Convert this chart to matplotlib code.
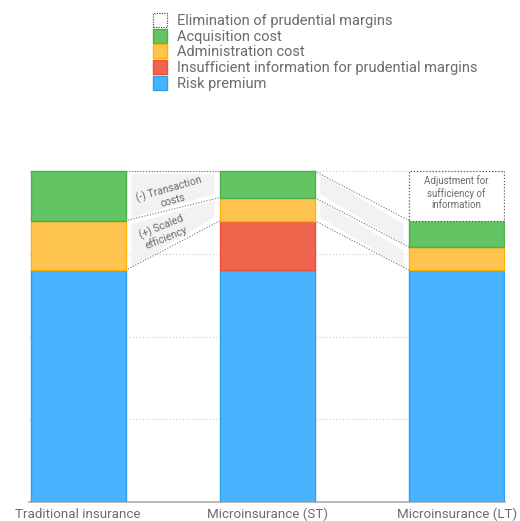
#!/usr/bin/env python3
"""Stacked premium breakdown: traditional vs micro insurance."""

import matplotlib

matplotlib.use("Agg")

import matplotlib.pyplot as plt
from matplotlib.patches import Patch, Polygon

plt.rcParams["font.family"] = ["Roboto", "DejaVu Sans"]

CATEGORIES = ["Traditional insurance", "Microinsurance (ST)", "Microinsurance (LT)"]
RISK = [70, 70, 70]
INSUFFICIENT = [0, 15, 0]
ADMIN = [15, 7, 7]
ACQUISITION = [15, 8, 8]
ELIMINATION = [0, 0, 15]

LEGEND_LABELS = [
    "Elimination of prudential margins",
    "Acquisition cost",
    "Administration cost",
    "Insufficient information for prudential margins",
    "Risk premium",
]

FILL = {"risk": "#4ab3ff", "ins": "#f0654e", "adm": "#ffc34f", "acq": "#62c462"}
EDGE = {"risk": "#2ba0f0", "ins": "#e8503a", "adm": "#ffb300", "acq": "#4cb04c"}
TXT = "#6b6b6b"
W = 0.5

fig = plt.figure(figsize=(5.2, 5.21), dpi=100)
ax = fig.add_axes([0.0558, 0.0365, 0.915, 0.6415])

x = list(range(len(CATEGORIES)))
bottom = [0, 0, 0]
for key, vals in [("risk", RISK), ("ins", INSUFFICIENT), ("adm", ADMIN), ("acq", ACQUISITION)]:
    ax.bar(x, vals, W, bottom=bottom, color=FILL[key], edgecolor=EDGE[key], linewidth=1, zorder=3)
    bottom = [b + v for b, v in zip(bottom, vals)]

# dashed box for eliminated margins on LT bar
ax.bar(x[2], ELIMINATION[2], W, bottom=bottom[2], facecolor="white", edgecolor="#555555",
       linestyle=(0, (1, 1.5)), linewidth=0.9, zorder=3)
ax.text(x[2], bottom[2] + ELIMINATION[2] / 2 + 1, "Adjustment for\nsufficiency of\ninformation",
        ha="center", va="center", fontsize=7, color=TXT, linespacing=1.2, zorder=4)


def band(x0, x1, top0, bot0, top1, bot1):
    gx = 0.03
    poly = Polygon([(x0 + gx, top0 - 1.0), (x1 - gx, top1 - 1.0), (x1 - gx, bot1 + 1.0), (x0 + gx, bot0 + 1.0)],
                   closed=True, facecolor="#f2f2f2", edgecolor="none", zorder=1)
    ax.add_patch(poly)


def link(x0, x1, y0, y1):
    ax.plot([x0, x1], [y0, y1], color="#777777", lw=0.8, ls=(0, (1, 1.5)), zorder=2)


# traditional -> ST
t_adm = RISK[0] + ADMIN[0]
t_top = t_adm + ACQUISITION[0]
s_adm = RISK[1] + INSUFFICIENT[1] + ADMIN[1]
s_ins = RISK[1] + INSUFFICIENT[1]
s_top = s_adm + ACQUISITION[1]
xa, xb = x[0] + W / 2, x[1] - W / 2
band(xa, xb, t_top, t_adm, s_top, s_adm)
band(xa, xb, t_adm, RISK[0], s_adm, s_ins)
link(xa, xb, t_top, s_top)
link(xa, xb, t_adm, s_adm)
link(xa, xb, RISK[0], s_ins)

# ST -> LT
l_adm = RISK[2] + ADMIN[2]
l_top = l_adm + ACQUISITION[2]
xa, xb = x[1] + W / 2, x[2] - W / 2
band(xa, xb, s_top, s_adm, l_top, l_adm)
band(xa, xb, s_adm, s_ins, l_adm, RISK[2])
link(xa, xb, s_top, l_top)
link(xa, xb, s_adm, l_adm)
link(xa, xb, s_ins, RISK[2])

ax.text(0.49, 93.0, "(-) Transaction\ncosts", rotation=16, ha="center", va="center",
        fontsize=7.5, color=TXT, linespacing=1.1, rotation_mode="anchor", zorder=4)
ax.text(0.45, 81.5, "(+) Scaled\nefficiency", rotation=22, ha="center", va="center",
        fontsize=7.5, color=TXT, linespacing=1.1, rotation_mode="anchor", zorder=4)

ax.set_xlim(-0.26, 2.255)
ax.set_ylim(0, 101)
ax.set_yticks([0, 25, 50, 75, 100])
ax.yaxis.grid(True, color="#cccccc", linestyle=(0, (1, 2)), linewidth=0.8, zorder=0)
ax.set_axisbelow(True)
for s in ["top", "right", "left"]:
    ax.spines[s].set_visible(False)
ax.spines["bottom"].set_color("#aaaaaa")
ax.spines["bottom"].set_linewidth(1.2)
ax.tick_params(axis="y", left=False, labelleft=False)
ax.tick_params(axis="x", bottom=False, pad=0.5)
ax.set_xticks(x)
ax.set_xticklabels(CATEGORIES, fontsize=9.6, color=TXT)

handles = [
    Patch(facecolor="white", edgecolor="#555555", linestyle=(0, (1, 1)), linewidth=0.9),
    Patch(facecolor=FILL["acq"], edgecolor=EDGE["acq"]),
    Patch(facecolor=FILL["adm"], edgecolor=EDGE["adm"]),
    Patch(facecolor=FILL["ins"], edgecolor=EDGE["ins"]),
    Patch(facecolor=FILL["risk"], edgecolor=EDGE["risk"]),
]
fig.legend(handles=handles, labels=LEGEND_LABELS, loc="upper left", bbox_to_anchor=(0.274, 0.995),
           frameon=False, fontsize=10.5, labelcolor=TXT, handlelength=0.95, handleheight=1.1,
           handletextpad=0.75, labelspacing=0.06, borderpad=0.2)

fig.savefig("out.png", dpi=100)
